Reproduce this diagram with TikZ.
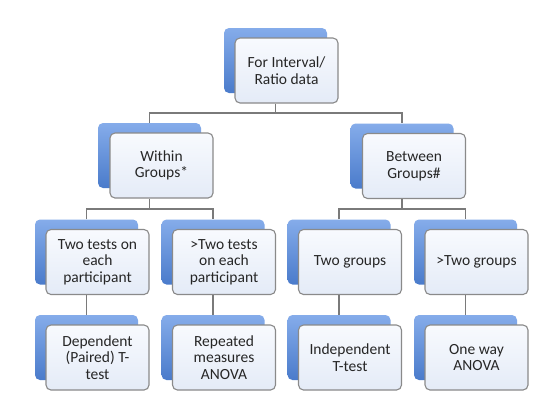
\documentclass[tikz,border=0pt]{standalone}
\usepackage{fontspec}
\setmainfont{Carlito}
\definecolor{backtop}{HTML}{85ACEA}
\definecolor{backbot}{HTML}{4A7BCB}
\definecolor{fronttop}{HTML}{F8FAFE}
\definecolor{frontbot}{HTML}{E4EBF7}
\definecolor{edgegray}{HTML}{8A8A8A}
\definecolor{linegray}{HTML}{7A7A7A}
\definecolor{txt}{HTML}{262626}
\begin{document}
\begin{tikzpicture}[x=1bp,y=-1bp,
  backbox/.style={minimum width=103bp,minimum height=65bp,rounded corners=5bp,
    top color=backtop,bottom color=backbot,draw=none,inner sep=0pt},
  frontbox/.style={minimum width=103bp,minimum height=65bp,rounded corners=5bp,
    top color=fronttop,bottom color=frontbot,draw=edgegray,line width=1.1bp,
    align=center,text=txt,inner sep=2bp,
    font=\fontsize{15.5bp}{16.7bp}\selectfont},
  conn/.style={draw=linegray,line width=1.2bp}]
\useasboundingbox (0,0) rectangle (555,408);
\fill[white] (0,0) rectangle (555,408);
% back shapes
\node[backbox] (topb) at (275.5,60.5) {};
\node[backbox] (withinb) at (149.5,155.5) {};
\node[backbox] (betweenb) at (402,156) {};
\node[backbox] (ab) at (86.5,252) {};
\node[backbox] (bb) at (213,252) {};
\node[backbox] (cb) at (339,252) {};
\node[backbox] (db) at (465.5,252) {};
\node[backbox] (eb) at (86.5,347.5) {};
\node[backbox] (fb) at (213,347.5) {};
\node[backbox] (gb) at (339,347.5) {};
\node[backbox] (hb) at (465.5,347.5) {};
% front shapes
\node[frontbox] (top) at (286.5,70.5) {For Interval/\\Ratio data};
\node[frontbox] (within) at (161.5,165.5) {Within\\Groups*};
\node[frontbox] (between) at (414,166) {Between\\Groups\#};
\node[frontbox] (a) at (97.5,262) {Two tests on\\each\\participant};
\node[frontbox] (b) at (224,262) {>Two tests\\on each\\participant};
\node[frontbox] (c) at (350,262) {Two groups};
\node[frontbox] (d) at (476.5,262) {>Two groups};
\node[frontbox] (e) at (97.5,357.5) {Dependent\\(Paired) T-\\test};
\node[frontbox] (f) at (224,357.5) {Repeated\\measures\\ANOVA};
\node[frontbox] (g) at (350,357.5) {Independent\\T-test};
\node[frontbox] (h) at (476.5,357.5) {One way\\ANOVA};
% junctions
\coordinate (j1) at (275.5,113);
\coordinate (j2) at (149.5,209);
\coordinate (j3) at (402,209);
% connectors
\draw[conn] (top.south -| j1) -- (j1);
\draw[conn] (withinb.north) |- (j1) -| (betweenb.north);
\draw[conn] (within.south -| j2) -- (j2);
\draw[conn] (ab.north) |- (j2) -| (bb.north);
\draw[conn] (between.south -| j3) -- (j3);
\draw[conn] (cb.north) |- (j3) -| (db.north);
\draw[conn] (a.south -| ab.north) -- (eb.north);
\draw[conn] (b.south -| bb.north) -- (fb.north);
\draw[conn] (c.south -| cb.north) -- (gb.north);
\draw[conn] (d.south -| db.north) -- (hb.north);
\end{tikzpicture}
\end{document}
